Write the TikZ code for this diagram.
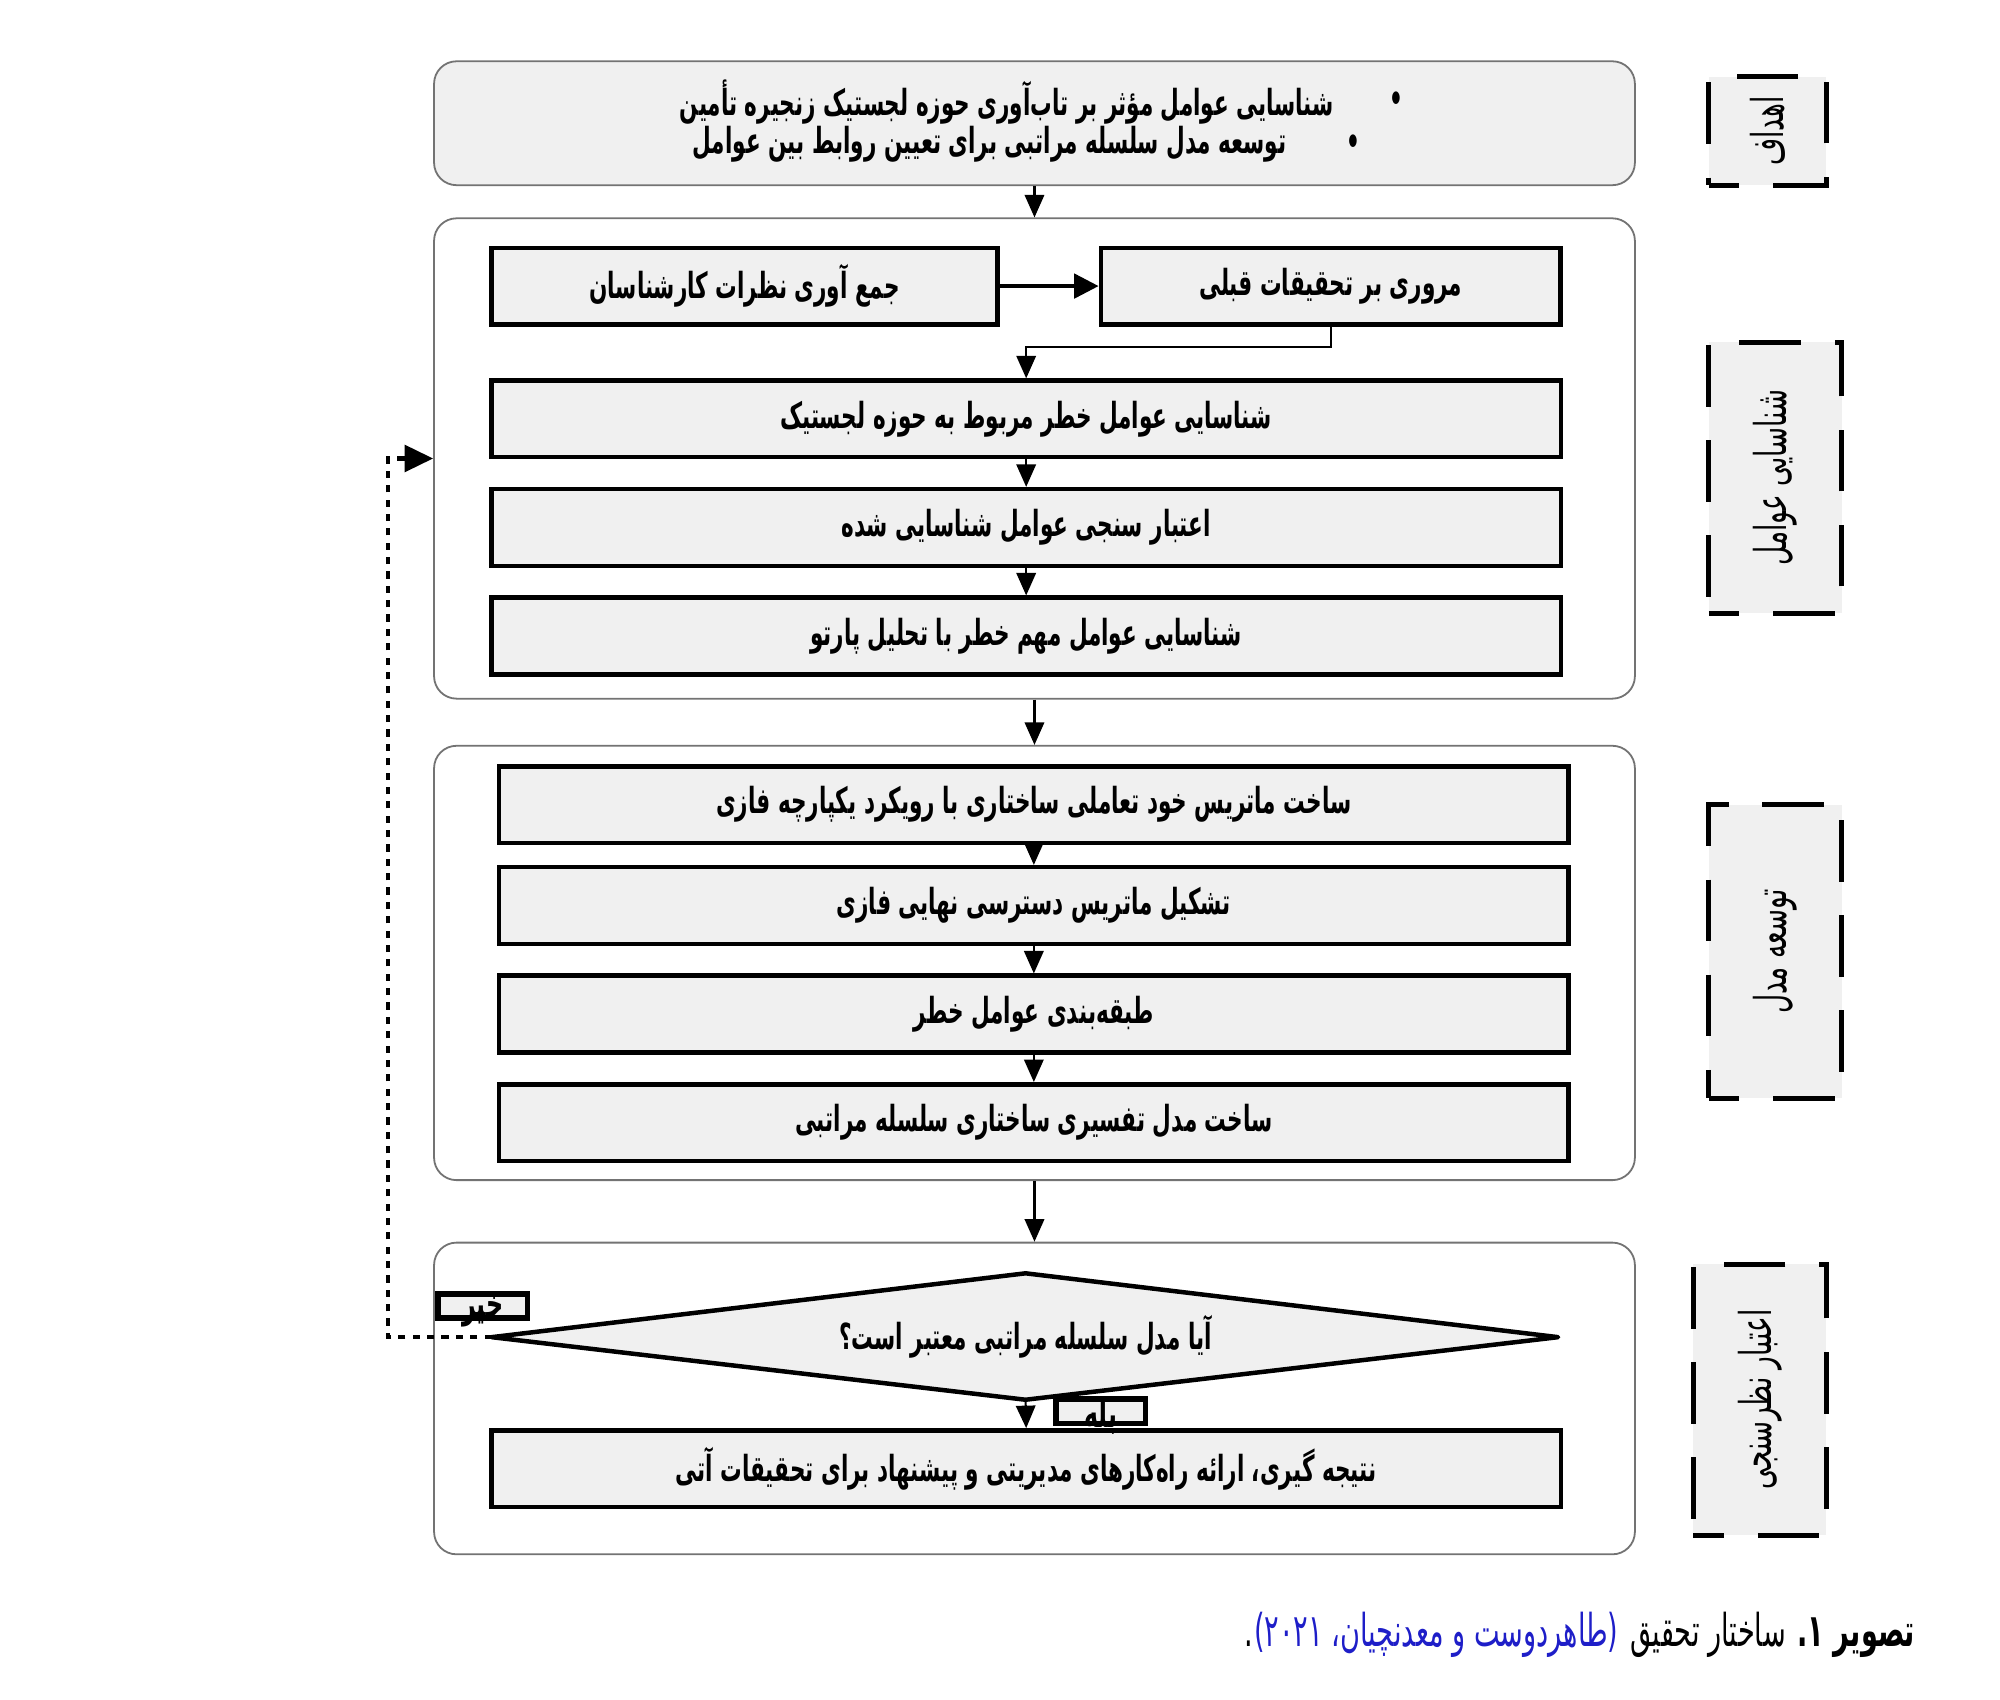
\documentclass[tikz,border=0pt]{standalone}
\usepackage{fontspec}
\usetikzlibrary{arrows.meta}
\TeXXeTstate=1
\newfontfamily\fa[Script=Arabic,FakeStretch=0.6]{DejaVu Sans}
\newcommand\fatext[1]{\beginR #1\endR}
\definecolor{boxfill}{RGB}{240,240,240}
\definecolor{capblue}{RGB}{30,30,200}
\tikzset{
  frame/.style={draw=black!55, line width=0.5pt, rounded corners=0.22cm, minimum width=11.75cm},
  stepbox/.style={draw, line width=1.25pt, fill=boxfill, inner sep=0pt, minimum width=10.4625cm, minimum height=0.75cm, font=\fa\bfseries\fontsize{10}{12}\selectfont},
  tagbox/.style={draw, line width=1.6pt, fill=boxfill, inner sep=0pt, minimum width=0.875cm, minimum height=0.2375cm},
  tagtext/.style={font=\fa\bfseries\fontsize{11}{12}\selectfont, inner sep=0pt},
  lblbox/.style={draw, line width=1.4pt, fill=boxfill, dash pattern=on 0.6cm off 0.33cm, dash phase=0.3cm, inner sep=0pt},
  lbltext/.style={rotate=90, font=\fa\fontsize{12.2}{14}\selectfont, inner sep=0pt},
  arr/.style={-{Triangle[length=0.22cm,width=0.19cm]}, line width=0.6pt},
  bigarr/.style={-{Triangle[length=0.24cm,width=0.24cm]}, line width=1pt},
  toptext/.style={font=\fa\bfseries\fontsize{10}{12}\selectfont, inner sep=0pt},
  captext/.style={font=\fa\fontsize{12.6}{14}\selectfont, inner sep=0pt, anchor=base east},
}
\begin{document}
\begin{tikzpicture}[x=0.0125cm,y=-0.0125cm]
\useasboundingbox (0,0) rectangle (1566,1331);
% frames
\node[frame, fill=boxfill, minimum height=1.2125cm] (F1) at (810,96.5) {};
\node[frame, fill=white, minimum height=4.7cm] (F2) at (810,359) {};
\node[frame, fill=white, minimum height=4.25cm] (F3) at (810,754) {};
\node[frame, fill=white, minimum height=3.05cm] (F4) at (810,1095) {};
% goals text
\node[toptext] (g1b) at (1093,80) {\textbullet};
\node[toptext] (g2b) at (1060,113) {\textbullet};
\node[toptext, anchor=east] (g1) at (1045,80) {\fatext{شناسایی عوامل مؤثر بر تاب‌آوری حوزه لجستیک زنجیره تأمین}};
\node[toptext, anchor=east] (g2) at (1008,113) {\fatext{توسعه مدل سلسله مراتبی برای تعیین روابط بین عوامل}};
% section 2
\node[stepbox, minimum width=4.95cm] (b1) at (583,224) {\fatext{جمع آوری نظرات کارشناسان}};
\node[stepbox, minimum width=4.5cm] (b2) at (1042,224) {\fatext{مروری بر تحقیقات قبلی}};
\node[stepbox] (b3) at (803.5,328) {\fatext{شناسایی عوامل خطر مربوط به حوزه لجستیک}};
\node[stepbox] (b4) at (803.5,413) {\fatext{اعتبار سنجی عوامل شناسایی شده}};
\node[stepbox] (b5) at (803.5,498) {\fatext{شناسایی عوامل مهم خطر با تحلیل پارتو}};
% section 3
\node[stepbox] (c1) at (809.5,630) {\fatext{ساخت ماتریس خود تعاملی ساختاری با رویکرد یکپارچه فازی}};
\node[stepbox] (c2) at (809.5,709) {\fatext{تشکیل ماتریس دسترسی نهایی فازی}};
\node[stepbox] (c3) at (809.5,794) {\fatext{طبقه‌بندی عوامل خطر}};
\node[stepbox] (c4) at (809.5,879) {\fatext{ساخت مدل تفسیری ساختاری سلسله مراتبی}};
% section 4: decision diamond
\coordinate (Dl) at (385,1047);
\coordinate (Dr) at (1220,1047);
\coordinate (Dt) at (803,997);
\coordinate (Db) at (803,1096);
\draw[line width=1.25pt, fill=boxfill, line join=round] (Dl) -- (Dt) -- (Dr) -- (Db) -- cycle;
\node[toptext] (D) at (803,1047) {\fatext{آیا مدل سلسله مراتبی معتبر است؟}};
\node[stepbox] (fin) at (803.5,1150) {\fatext{نتیجه گیری، ارائه راه‌کارهای مدیریتی و پیشنهاد برای تحقیقات آتی}};
\node[tagbox] (no) at (378,1022.5) {};
\node[tagtext] (not) at (378,1027) {\fatext{خیر}};
\node[tagbox] (yes) at (862,1105) {};
\node[tagtext] (yest) at (862,1109) {\fatext{بله}};
% side labels
\node[lblbox, minimum width=1.15cm, minimum height=1.0625cm] (L1) at (1384,102.5) {};
\node[lbltext] at (L1) {\fatext{اهداف}};
\node[lblbox, minimum width=1.3cm, minimum height=2.65cm] (L2) at (1390,374) {};
\node[lbltext] at (L2) {\fatext{شناسایی عوامل}};
\node[lblbox, minimum width=1.3cm, minimum height=2.875cm] (L3) at (1390,745) {};
\node[lbltext] at (L3) {\fatext{توسعه مدل}};
\node[lblbox, minimum width=1.3cm, minimum height=2.65cm] (L4) at (1378,1096) {};
\node[lbltext] at (L4) {\fatext{اعتبار نظرسنجی}};
% connectors
\draw[arr] (F1.south) -- (F2.north);
\draw[bigarr] (b1.east) -- (b2.west);
\draw[arr] (b2.south) -- ++(0,16) -| (b3.north);
\draw[arr] (b3.south) -- (b4.north);
\draw[arr] (b4.south) -- (b5.north);
\draw[arr] (F2.south) -- (F3.north);
\draw[arr] (c1.south) -- (c2.north);
\draw[arr] (c2.south) -- (c3.north);
\draw[arr] (c3.south) -- (c4.north);
\draw[arr] (F3.south) -- (F4.north);
\draw[arr] (Db) -- (fin.north);
\coordinate (fb) at (304,1047);
\draw[line width=1.2pt, dash pattern=on 2pt off 2pt, -{Triangle[length=0.28cm,width=0.26cm]}] (Dl) -- (fb) |- (F2.west);
% caption
\node[captext] (cap1) at (1500,1289) {\bfseries\fatext{تصویر ۱.}};
\node[captext, xshift=-0.1cm] (cap2) at (cap1.base west) {\fatext{ساختار تحقیق}};
\node[captext, xshift=-0.1cm, text=capblue] (cap3) at (cap2.base west) {\fatext{(طاهردوست و معدنچیان، ۲۰۲۱)}};
\node[captext] (cap4) at (cap3.base west) {.};
\end{tikzpicture}
\end{document}
